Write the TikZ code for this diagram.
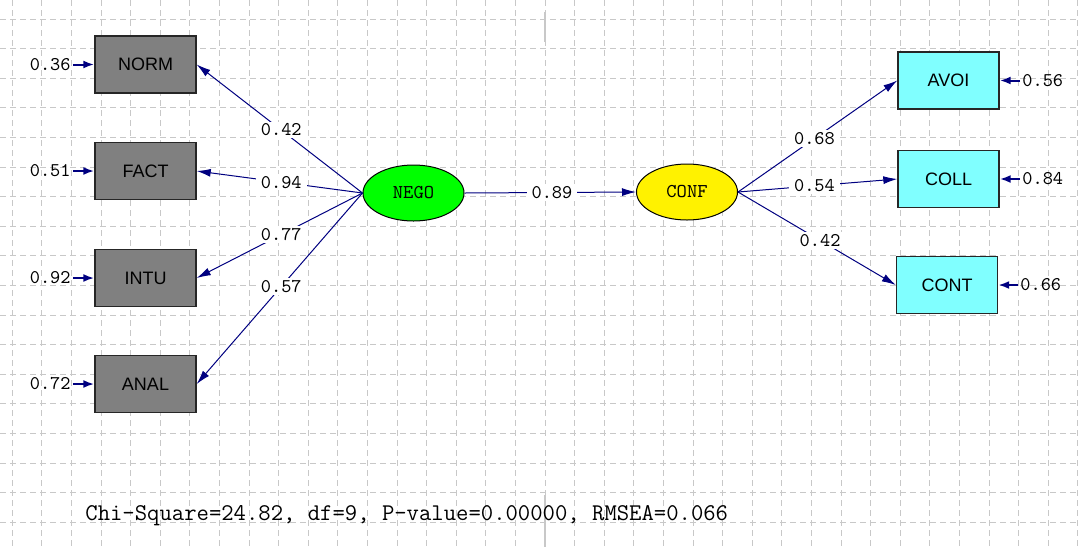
\documentclass[tikz,border=0pt]{standalone}
\usepackage{fontspec}
\setmainfont{Liberation Sans}
\usetikzlibrary{arrows.meta, shapes.geometric}
\definecolor{obsgray}{RGB}{128,128,128}
\definecolor{obscyan}{RGB}{128,255,255}
\definecolor{pathnavy}{RGB}{0,0,128}
\definecolor{gridgray}{RGB}{200,200,200}

\begin{document}
\begin{tikzpicture}[x=0.5pt, y=-0.5pt,
    obsbox/.style={draw=black!85, line width=0.7pt, minimum width=50.5pt, minimum height=28.5pt,
      inner sep=0pt, font=\fontsize{9}{10}\selectfont},
    latvar/.style={ellipse, draw=black, line width=0.5pt, minimum width=50.5pt, minimum height=28pt,
      inner sep=0pt, font=\ttfamily\fontsize{9.8}{10}\selectfont},
    coef/.style={fill=white, text=black, inner xsep=2.5pt, inner ysep=1pt, font=\ttfamily\fontsize{9.7}{10}\selectfont},
    errlab/.style={inner sep=1pt, text=black, font=\ttfamily\fontsize{9.7}{10}\selectfont},
    link/.style={pathnavy, line width=0.5pt, -{Latex[length=7pt, width=4pt]}},
    errlink/.style={pathnavy, line width=1pt, -{Latex[length=5.5pt, width=4pt]}}]
  \useasboundingbox (0,0) rectangle (1080,547);

  % grid
  \foreach \k in {0,...,17}
    \draw[gridgray, line width=0.5pt, dash pattern=on 3pt off 2pt] (0,{19+29.6*\k}) -- (1080,{19+29.6*\k});
  \foreach \k in {0,...,36}
    \draw[gridgray, line width=0.5pt, dash pattern=on 3pt off 2pt] ({12.2+29.6*\k},0) -- ({12.2+29.6*\k},547);
  \draw[gridgray, line width=0.6pt] (545,12) -- (545,42);
  \draw[gridgray, line width=0.6pt] (545,495) -- (545,547);

  % latent variables
  \node[latvar, fill=green] (nego) at (413.5,193) {NEGO};
  \node[latvar, fill=yellow] (conf) at (687,192) {CONF};

  % observed variables
  \node[obsbox, fill=obsgray] (norm) at (145.5,64.5) {NORM};
  \node[obsbox, fill=obsgray] (fact) at (145.5,171) {FACT};
  \node[obsbox, fill=obsgray] (intu) at (145.5,278) {INTU};
  \node[obsbox, fill=obsgray] (anal) at (145.5,384) {ANAL};
  \node[obsbox, fill=obscyan] (avoi) at (948.5,80.5) {AVOI};
  \node[obsbox, fill=obscyan] (coll) at (948.5,179) {COLL};
  \node[obsbox, fill=obscyan] (cont) at (947,285) {CONT};

  % error variances
  \node[errlab, anchor=east] (enorm) at (73,64.5) {0.36};
  \node[errlab, anchor=east] (efact) at (73,171) {0.51};
  \node[errlab, anchor=east] (eintu) at (73,278) {0.92};
  \node[errlab, anchor=east] (eanal) at (73,384) {0.72};
  \node[errlab, anchor=west] (eavoi) at (1020,80.5) {0.56};
  \node[errlab, anchor=west] (ecoll) at (1020,179) {0.84};
  \node[errlab, anchor=west] (econt) at (1018,285) {0.66};
  \draw[errlink] (enorm) -- (norm);
  \draw[errlink] (efact) -- (fact);
  \draw[errlink] (eintu) -- (intu);
  \draw[errlink] (eanal) -- (anal);
  \draw[errlink] (eavoi) -- (avoi);
  \draw[errlink] (ecoll) -- (coll);
  \draw[errlink] (econt) -- (cont);

  % loadings and path
  \draw[link] (nego.west) -- (norm.east) node[coef, pos=0.49] {0.42};
  \draw[link] (nego.west) -- (fact.east) node[coef, pos=0.49] {0.94};
  \draw[link] (nego.west) -- (intu.east) node[coef, pos=0.49] {0.77};
  \draw[link] (nego.west) -- (anal.east) node[coef, pos=0.49] {0.57};
  \draw[link] (nego.east) -- (conf.west) node[coef, pos=0.51] {0.89};
  \draw[link] (conf.east) -- (avoi.west) node[coef, pos=0.48] {0.68};
  \draw[link] (conf.east) -- (coll.west) node[coef, pos=0.48] {0.54};
  \draw[link] (conf.east) -- (cont.west) node[coef, pos=0.52] {0.42};

  \node[anchor=west, inner sep=0pt, font=\ttfamily\fontsize{12}{13}\selectfont] (fit) at (85,516)
    {Chi-Square=24.82, df=9, P-value=0.00000, RMSEA=0.066};
\end{tikzpicture}
\end{document}
